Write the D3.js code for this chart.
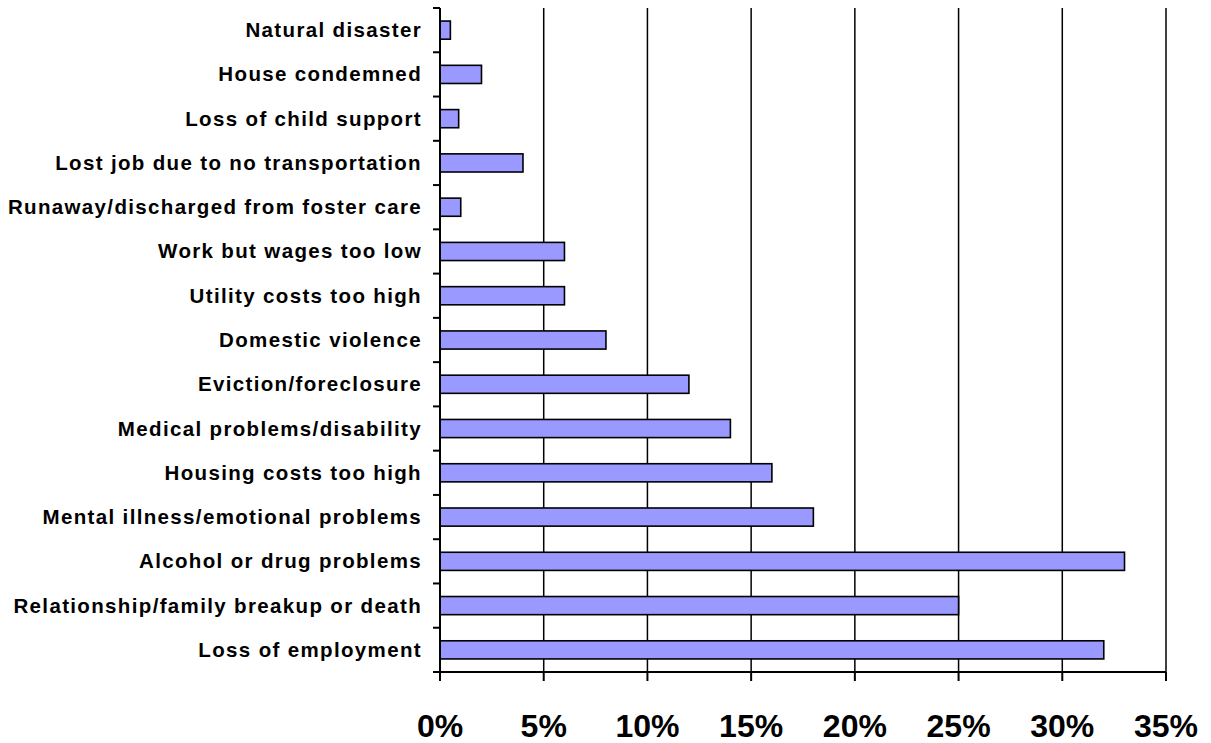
<!DOCTYPE html>
<html>
<head>
  <meta charset="utf-8">
  <script src="https://cdn.jsdelivr.net/npm/d3@7"></script>
  <style>
    body { margin: 0; background: #fff; }
    svg { display: block; }
    .ylab { font-family: Arial, "Liberation Sans", sans-serif; font-weight: bold; font-size: 20.5px; letter-spacing: 1.35px; }
    .xlab { font-family: Arial, "Liberation Sans", sans-serif; font-weight: bold; font-size: 32px; }
  </style>
</head>
<body>
<svg id="chart" width="1211" height="743"></svg>
<script>
  // categories top to bottom, share of respondents (%)
  var categories = [
    'Natural disaster',
    'House condemned',
    'Loss of child support',
    'Lost job due to no transportation',
    'Runaway/discharged from foster care',
    'Work but wages too low',
    'Utility costs too high',
    'Domestic violence',
    'Eviction/foreclosure',
    'Medical problems/disability',
    'Housing costs too high',
    'Mental illness/emotional problems',
    'Alcohol or drug problems',
    'Relationship/family breakup or death',
    'Loss of employment'
  ];
  var values = [0.5, 2, 0.9, 4, 1, 6, 6, 8, 12, 14, 16, 18, 33, 25, 32];
  var xTicks = [0, 5, 10, 15, 20, 25, 30, 35];

  var margin = { top: 8, left: 440, right: 45, bottom: 71 };
  var width = 1211 - margin.left - margin.right;
  var height = 743 - margin.top - margin.bottom;

  var svg = d3.select('#chart');
  var g = svg.append('g').attr('transform', 'translate(' + margin.left + ',' + margin.top + ')');

  var x = d3.scaleLinear().domain([0, 35]).range([0, width]);
  var y = d3.scaleBand().domain(categories).range([0, height]).paddingInner(0.59).paddingOuter(0.295);
  var yb = d3.scaleBand().domain(categories).range([0, height]);

  // vertical gridlines
  g.selectAll('.grid')
    .data(xTicks.slice(1))
    .enter().append('line')
    .attr('x1', d => x(d)).attr('x2', d => x(d))
    .attr('y1', 0).attr('y2', height)
    .attr('stroke', '#000').attr('stroke-width', 1.5);

  // bars
  g.selectAll('.bar')
    .data(values)
    .enter().append('rect')
    .attr('x', 0)
    .attr('y', (d, i) => y(categories[i]))
    .attr('width', d => x(d))
    .attr('height', y.bandwidth())
    .attr('fill', '#9999ff')
    .attr('stroke', '#000')
    .attr('stroke-width', 1.6);

  // y axis
  var yTickPos = categories.map(c => yb(c)).concat([height]);
  g.append('line').attr('x1', 0).attr('x2', 0).attr('y1', 0).attr('y2', height + 8)
    .attr('stroke', '#000').attr('stroke-width', 2);
  g.selectAll('.ytick')
    .data(yTickPos)
    .enter().append('line')
    .attr('x1', -7).attr('x2', 0)
    .attr('y1', d => d).attr('y2', d => d)
    .attr('stroke', '#000').attr('stroke-width', 2);
  g.selectAll('.ylab')
    .data(categories)
    .enter().append('text')
    .attr('class', 'ylab')
    .attr('x', -18)
    .attr('y', d => yb(d) + yb.bandwidth() / 2 + 7)
    .attr('text-anchor', 'end')
    .text(d => d);

  // x axis
  g.append('line').attr('x1', -7).attr('x2', width).attr('y1', height).attr('y2', height)
    .attr('stroke', '#000').attr('stroke-width', 2);
  g.selectAll('.xtick')
    .data(xTicks)
    .enter().append('line')
    .attr('x1', d => x(d)).attr('x2', d => x(d))
    .attr('y1', height).attr('y2', height + 9)
    .attr('stroke', '#000').attr('stroke-width', 2);
  g.selectAll('.xlab')
    .data(xTicks)
    .enter().append('text')
    .attr('class', 'xlab')
    .attr('x', d => x(d))
    .attr('y', height + 65)
    .attr('text-anchor', 'middle')
    .text(d => d + '%');
</script>
</body>
</html>
